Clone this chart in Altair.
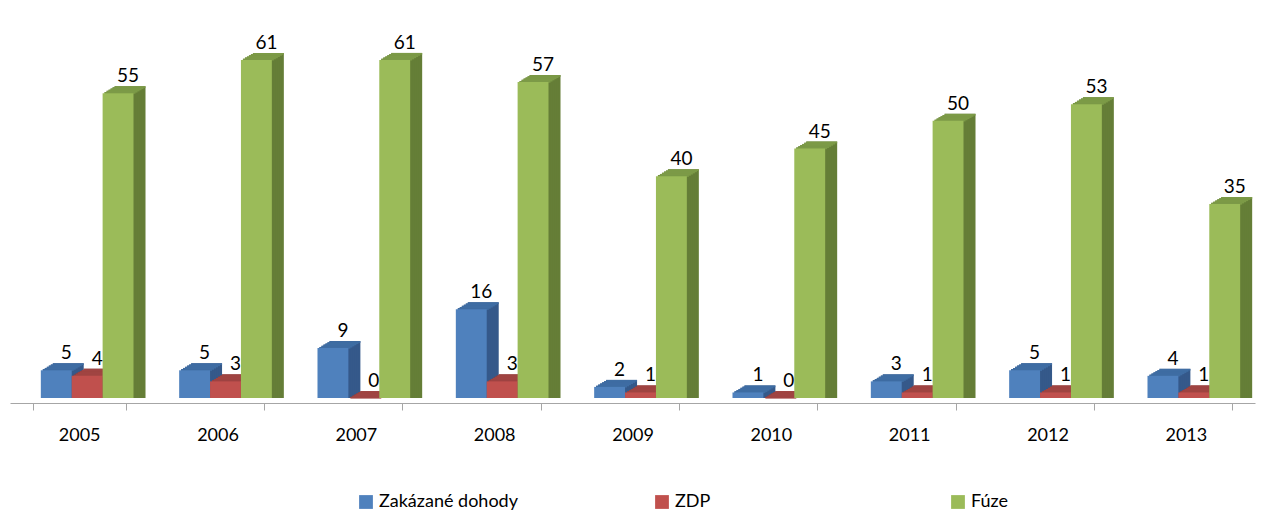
import altair as alt
import pandas as pd

years = ["2005", "2006", "2007", "2008", "2009", "2010", "2011", "2012", "2013"]
series_names = ["Zakázané dohody", "ZDP", "Fúze"]
zakazane = [5, 5, 9, 16, 2, 1, 3, 5, 4]
zdp = [4, 3, 0, 3, 1, 0, 1, 1, 1]
fuze = [55, 61, 61, 57, 40, 45, 50, 53, 35]

front_colors = ["#4F81BD", "#C0504D", "#9BBB59"]
top_colors = ["#3F6DA3", "#A04442", "#7C9A47"]
side_colors = ["#35598A", "#853734", "#657E37"]

rows = []
for name, vals in zip(series_names, [zakazane, zdp, fuze]):
    for y, v in zip(years, vals):
        rows.append({"year": y, "series": name, "value": v})
df = pd.DataFrame(rows)

FONT = "Lato"
W, H = 1245, 388
SHIFT = 8       # horizontal perspective shift of front faces
DX, DY = 12, 7  # depth of the 3D effect
N = 6           # smoothing steps for the slanted faces


def x_enc(shift, axis=None):
    return alt.X("year:N", sort=years,
                 scale=alt.Scale(paddingInner=0.33, paddingOuter=0.165, range=[shift, W + shift]),
                 axis=axis)


def y_enc(lift):
    return alt.Y("value:Q", scale=alt.Scale(domain=[0, 70], nice=False, range=[H - lift, -lift]),
                 axis=None)


main_axis = alt.Axis(title=None, labelFontSize=18, labelFont=FONT, labelColor="#000000",
                     domainColor="#A6A6A6", tickColor="#A6A6A6", tickSize=7,
                     tickBand="extent", labelPadding=16, offset=5, labelAngle=0, grid=False)

xo_enc = alt.XOffset("series:N", sort=series_names, scale=alt.Scale(paddingInner=0, paddingOuter=0))


def col(rng):
    return alt.Color("series:N", scale=alt.Scale(domain=series_names, range=rng), legend=None)


base = alt.Chart(df)

layers = [base.mark_bar(opacity=0).encode(x=x_enc(0, main_axis), xOffset=xo_enc, y=y_enc(0))]

# side faces (full shifted boxes), farthest first
for k in range(N, 0, -1):
    sx = SHIFT + DX * k / N
    sy = DY * k / N
    layers.append(
        base.mark_bar(y2Offset=sy).encode(
            x=x_enc(sx), xOffset=xo_enc, y=y_enc(sy), y2=alt.datum(0), color=col(side_colors)
        )
    )

# top faces (thin strips), farthest first
for k in range(N, 0, -1):
    sx = SHIFT + DX * k / N
    sy = DY * k / N
    layers.append(
        base.mark_bar(y2Offset=DY / N + 0.6).encode(
            x=x_enc(sx), xOffset=xo_enc, y=y_enc(sy), y2=alt.Y2("value:Q"), color=col(top_colors)
        )
    )

front = base.mark_bar().encode(
    x=x_enc(SHIFT), xOffset=xo_enc, y=y_enc(0),
    color=alt.Color("series:N", scale=alt.Scale(domain=series_names, range=front_colors),
                    legend=alt.Legend(title=None, orient="none", legendX=347, legendY=483,
                                      direction="horizontal", symbolType="square", symbolSize=190,
                                      symbolStrokeWidth=0, labelFontSize=18, labelFont=FONT,
                                      labelColor="#000000", columnPadding=135, gridAlign="all")),
)
layers.append(front)

labels = base.mark_text(dx=10, dy=-17, fontSize=19, font=FONT, color="#000000", baseline="middle").encode(
    x=x_enc(SHIFT), xOffset=xo_enc, y=y_enc(0), text=alt.Text("value:Q"),
)
layers.append(labels)

chart = alt.layer(*layers).resolve_scale(
    color="independent", x="independent", y="independent"
).properties(
    width=W, height=H,
    padding={"left": 2, "top": 2, "right": 2, "bottom": 0},
).configure_view(stroke=None)

chart.save("out.html", embed_options={"renderer": "svg", "actions": False})
